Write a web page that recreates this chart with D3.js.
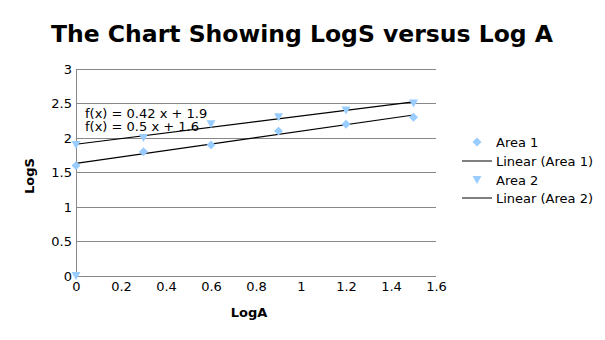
<!DOCTYPE html>
<html><head><meta charset="utf-8">
<script src="https://cdn.jsdelivr.net/npm/d3@7"></script>
<style>body{margin:0;background:#fff}text{font-family:"DejaVu Sans",sans-serif}</style>
</head><body>
<script>
const logA = [0, 0.3, 0.6, 0.9, 1.2, 1.5];
const area1 = [1.6, 1.8, 1.9, 2.1, 2.2, 2.3];
const area2 = [1.9, 2.0, 2.2, 2.3, 2.4, 2.5];
const originPoint = [0, 0];
const xTicks = [0, 0.2, 0.4, 0.6, 0.8, 1, 1.2, 1.4, 1.6];
const yTicks = [0, 0.5, 1, 1.5, 2, 2.5, 3];
const equations = ["f(x) = 0.42 x + 1.9", "f(x) = 0.5 x + 1.6"];
const legendLabels = ["Area 1", "Linear (Area 1)", "Area 2", "Linear (Area 2)"];

const W = 605, H = 340;
const svg = d3.select("body").append("svg").attr("width", W).attr("height", H);
const x = d3.scaleLinear().domain([0, 1.6]).range([76, 436]);
const y = d3.scaleLinear().domain([0, 3]).range([276, 69]);
const blue = "#99ccff";

svg.append("text").attr("x", 302).attr("y", 42).attr("text-anchor", "middle")
  .attr("font-size", 23.5).attr("font-weight", "bold").text("The Chart Showing LogS versus Log A");

// grid
svg.append("g").selectAll("line").data(yTicks).join("line")
  .attr("x1", 76).attr("x2", 436).attr("y1", d => y(d)).attr("y2", d => y(d))
  .attr("stroke", "#888").attr("stroke-width", 1).attr("shape-rendering", "crispEdges");
svg.append("line").attr("x1", 76).attr("x2", 76).attr("y1", 69).attr("y2", 276)
  .attr("stroke", "#888").attr("shape-rendering", "crispEdges");

// axes
const ya = svg.append("g").attr("transform", "translate(76,0)")
  .call(d3.axisLeft(y).tickValues(yTicks).tickSize(0).tickPadding(4).tickFormat(d3.format("")));
ya.select(".domain").remove();
ya.selectAll("text").attr("font-size", 13).attr("fill", "#000").attr("font-family", "DejaVu Sans");
const xa = svg.append("g").attr("transform", "translate(0,276)")
  .call(d3.axisBottom(x).tickValues(xTicks).tickSize(0).tickPadding(6).tickFormat(d3.format("")));
xa.select(".domain").remove();
xa.selectAll("text").attr("font-size", 13).attr("fill", "#000").attr("font-family", "DejaVu Sans");

svg.append("text").attr("x", 249).attr("y", 317).attr("text-anchor", "middle")
  .attr("font-size", 13).attr("font-weight", "bold").text("LogA");
svg.append("text").attr("transform", "translate(34,176) rotate(-90)").attr("text-anchor", "middle")
  .attr("font-size", 13).attr("font-weight", "bold").text("LogS");

// regression
function fit(xs, ys) {
  const mx = d3.mean(xs), my = d3.mean(ys);
  let sxy = 0, sxx = 0;
  xs.forEach((v, i) => { sxy += (v - mx) * (ys[i] - my); sxx += (v - mx) ** 2; });
  const m = sxy / sxx; return [m, my - m * mx];
}
[area1, area2].forEach(ys => {
  const [m, b] = fit(logA, ys);
  const x0 = d3.min(logA), x1 = d3.max(logA);
  svg.append("line").attr("x1", x(x0)).attr("y1", y(m * x0 + b)).attr("x2", x(x1)).attr("y2", y(m * x1 + b))
    .attr("stroke", "#000").attr("stroke-width", 1.2);
});

const tri = "M-4.5,-4 L4.5,-4 L0,4 Z";
svg.append("g").selectAll("path").data(logA).join("path")
  .attr("transform", (d, i) => `translate(${x(d)},${y(area1[i])}) rotate(45)`)
  .attr("d", d3.symbol().type(d3.symbolSquare).size(40)).attr("fill", blue);
svg.append("g").selectAll("path").data(logA).join("path")
  .attr("transform", (d, i) => `translate(${x(d)},${y(area2[i])})`)
  .attr("d", tri).attr("fill", blue);
svg.append("path").attr("transform", `translate(${x(originPoint[0])},${y(originPoint[1])})`)
  .attr("d", tri).attr("fill", blue);

// equations
equations.forEach((t, i) => svg.append("text").attr("x", 85).attr("y", 118 + i * 13)
  .attr("font-size", 13).text(t));

// legend
const lg = svg.append("g");
const ly = [142, 161, 180, 198];
legendLabels.forEach((t, i) => {
  lg.append("text").attr("x", 496).attr("y", ly[i] + 4.5).attr("font-size", 13).text(t);
  if (i === 1 || i === 3) lg.append("line").attr("x1", 462).attr("x2", 492).attr("y1", ly[i]).attr("y2", ly[i]).attr("stroke", "#000");
});
lg.append("path").attr("transform", `translate(477,${ly[0]}) rotate(45)`).attr("d", d3.symbol().type(d3.symbolSquare).size(40)).attr("fill", blue);
lg.append("path").attr("transform", `translate(477,${ly[2]})`).attr("d", tri).attr("fill", blue);
</script>
</body></html>
